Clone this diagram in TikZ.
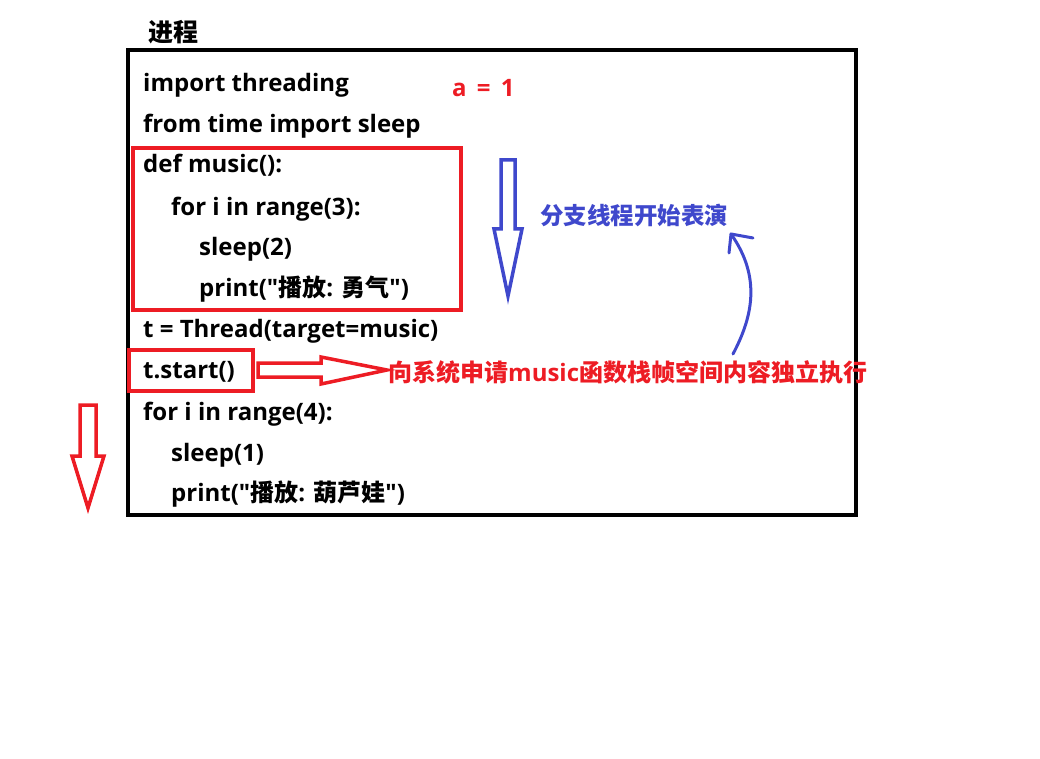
\documentclass[tikz,border=0pt]{standalone}
\usepackage{fontspec}
\setmainfont{Open Sans}[Ligatures=TeXOff]
\newfontfamily\cjk{Noto Sans CJK SC}
\definecolor{pred}{HTML}{ED1C24}
\definecolor{pblue}{HTML}{3F48CC}
\newcommand{\dq}{\symbol{34}}
\begin{document}
\begin{tikzpicture}[x=1pt,y=-1pt,
  code/.style={anchor=base west,inner sep=0pt,font=\fontsize{24}{28}\selectfont\bfseries},
  redtxt/.style={anchor=base west,inner sep=0pt,text=pred,font=\fontsize{24}{28}\selectfont\bfseries},
  bluetxt/.style={anchor=base west,inner sep=0pt,text=pblue,font=\fontsize{23.5}{28}\selectfont\bfseries\cjk},
  hollowred/.style={draw=pred,line width=3.5pt,line join=miter,fill=white},
  hollowblue/.style={draw=pblue,line width=3.5pt,line join=miter,fill=white},
  frame/.style={draw=pred,line width=4pt},
]
\useasboundingbox (0,0) rectangle (1040,759);
% main box
\draw[line width=4pt] (128,50) rectangle (856,515);
\node[anchor=base west,inner sep=0pt,font=\fontsize{25}{28}\selectfont\bfseries\cjk] (title) at (148,42) {进程};
% code
\node[code] (l1) at (143,92) {import threading};
\node[code] (l2) at (143,133) {from time import sleep};
\node[code] (l3) at (143,173) {def music():};
\node[code] (l4) at (171,215) {for i in range(3):};
\node[code] (l5) at (199,255) {sleep(2)};
\node[code] (l6) at (199,296) {print("{\cjk 播放}: {\cjk 勇气}")};
\node[code] (l7) at (143,337) {t = Thread(target=music)};
\node[code] (l8) at (143,378) {t.start()};
\node[code] (l9) at (143,420) {for i in range(4):};
\node[code] (l10) at (171,461) {sleep(1)};
\node[code] (l11) at (171,501) {print("{\cjk 播放}: {\cjk 葫芦娃}")};
\node[redtxt] (a1) at (452,97) {a\,\ =\,\ 1};
% red boxes
\draw[frame] (133,148) rectangle (461,310);
\draw[frame] (129,350) rectangle (253,391);
% red right arrow
\draw[hollowred] (258,363) -- (321,363) -- (321,357) -- (387,370) -- (321,384) -- (321,377) -- (258,377) -- cycle;
\node[redtxt,anchor=west] (req) at (388,372) {{\cjk 向系统申请}music{\cjk 函数栈帧空间内容独立执行}};
% blue down arrow
\draw[hollowblue] (501,160) -- (515,160) -- (515,229) -- (522,229) -- (508,296) -- (494,229) -- (501,229) -- cycle;
\node[bluetxt,anchor=west] (branch) at (540,215) {分支线程开始表演};
% blue curved arrow
\coordinate (cs) at (733,354);
\coordinate (ct) at (731,234);
\draw[pblue,line width=3pt,line cap=round] (cs) .. controls (752,318) and (762,278) .. (ct);
\draw[pblue,line width=3pt,line cap=round,line join=round] (729,253) -- (ct) -- (753,238);
% red left down arrow
\draw[hollowred] (80,405) -- (96,405) -- (96,456) -- (104,456) -- (88,508) -- (72,456) -- (80,456) -- cycle;
\end{tikzpicture}
\end{document}
